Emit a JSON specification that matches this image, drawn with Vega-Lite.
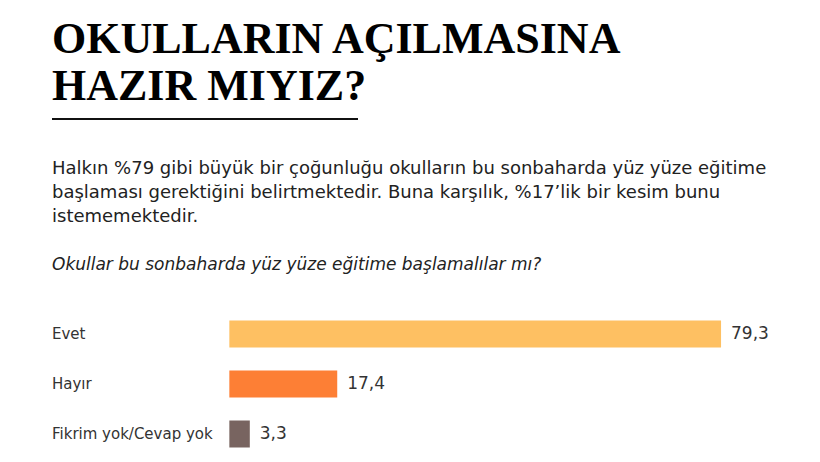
{
  "$schema": "https://vega.github.io/schema/vega-lite/v6.json",
  "background": "white",
  "padding": {"left": 52, "top": 18, "right": 0, "bottom": 0},
  "spacing": 40,
  "config": {
    "view": {"stroke": null},
    "locale": {"number": {"decimal": ",", "thousands": ".", "grouping": [3], "currency": ["", " TL"]}}
  },
  "vconcat": [
    {
      "width": 306,
      "height": 2,
      "title": {
        "text": ["OKULLARIN AÇILMASINA", "HAZIR MIYIZ?"],
        "anchor": "start",
        "font": "Liberation Serif",
        "fontWeight": "bold",
        "fontSize": 44,
        "lineHeight": 47,
        "color": "#000000",
        "offset": 9
      },
      "data": {"values": [{"rule": "underline"}]},
      "mark": {"type": "rect", "color": "#111111"},
      "encoding": {
        "x": {"datum": 0, "type": "quantitative", "axis": null, "scale": {"domain": [0, 1]}},
        "x2": {"datum": 1}
      }
    },
    {
      "width": 723,
      "height": {"step": 50},
      "title": {
        "text": [
          "Halkın %79 gibi büyük bir çoğunluğu okulların bu sonbaharda yüz yüze eğitime",
          "başlaması gerektiğini belirtmektedir. Buna karşılık, %17’lik bir kesim bunu",
          "istememektedir."
        ],
        "subtitle": "Okullar bu sonbaharda yüz yüze eğitime başlamalılar mı?",
        "anchor": "start",
        "font": "DejaVu Sans",
        "fontSize": 18,
        "fontWeight": "normal",
        "lineHeight": 24,
        "color": "#222222",
        "subtitleFont": "DejaVu Sans",
        "subtitleFontSize": 17,
        "subtitleFontStyle": "italic",
        "subtitleColor": "#222222",
        "subtitlePadding": 31,
        "offset": 36
      },
      "data": {
        "values": [
          {"cevap": "Evet", "oran": 79.3},
          {"cevap": "Hayır", "oran": 17.4},
          {"cevap": "Fikrim yok/Cevap yok", "oran": 3.3}
        ]
      },
      "encoding": {
        "y": {
          "field": "cevap",
          "type": "nominal",
          "sort": null,
          "scale": {"paddingInner": 0.46, "paddingOuter": 0.23},
          "axis": null
        }
      },
      "layer": [
        {
          "mark": {"type": "bar"},
          "encoding": {
            "x": {"field": "oran", "type": "quantitative", "scale": {"domain": [-28.6, 88], "nice": false, "zero": false}, "axis": null},
            "color": {
              "field": "cevap",
              "type": "nominal",
              "legend": null,
              "scale": {
                "domain": ["Evet", "Hayır", "Fikrim yok/Cevap yok"],
                "range": ["#FEC062", "#FD7F35", "#786460"]
              }
            }
          }
        },
        {
          "mark": {"type": "text", "align": "left", "dx": 10, "font": "DejaVu Sans", "fontSize": 17, "color": "#333333"},
          "encoding": {
            "x": {"field": "oran", "type": "quantitative"},
            "text": {"field": "oran", "type": "quantitative", "format": ".1f"}
          }
        },
        {
          "mark": {"type": "text", "align": "left", "font": "DejaVu Sans", "fontSize": 15, "color": "#333333"},
          "encoding": {
            "x": {"datum": -28.6, "type": "quantitative"},
            "text": {"field": "cevap", "type": "nominal"}
          }
        }
      ]
    }
  ]
}
